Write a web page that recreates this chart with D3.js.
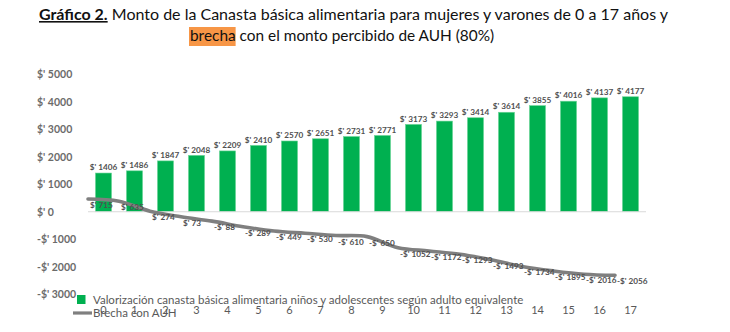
<!DOCTYPE html>
<html>
<head>
<meta charset="utf-8">
<script src="https://cdn.jsdelivr.net/npm/d3@7"></script>
<style>
  html, body { margin: 0; padding: 0; background: #ffffff; }
  svg { display: block; }
</style>
</head>
<body>
<svg id="chart" width="730" height="332"></svg>
<script>
// Edades (años) de niños y adolescentes
const ages = [0, 1, 2, 3, 4, 5, 6, 7, 8, 9, 10, 11, 12, 13, 14, 15, 16, 17];
// Valorización de la canasta básica alimentaria por edad ($)
const canasta = [1406, 1486, 1847, 2048, 2209, 2410, 2570, 2651, 2731, 2771,
                 3173, 3293, 3414, 3614, 3855, 4016, 4137, 4177];
// Brecha respecto del monto percibido de AUH (80%) ($)
const brecha = [715, 635, 274, 73, -88, -289, -449, -530, -610, -650,
                -1052, -1172, -1293, -1493, -1734, -1895, -2016, -2056];
// Marcas del eje vertical
const yTicks = [-3000, -2000, -1000, 0, 1000, 2000, 3000, 4000, 5000];
// Textos
const titleBold = "Gráfico 2.";
const titleLine1 = " Monto de la Canasta básica alimentaria para mujeres y varones de 0 a 17 años y";
const titleHighlight = "brecha";
const titleLine2 = " con el monto percibido de AUH (80%)";
const legendBars = "Valorización canasta básica alimentaria niños y adolescentes según adulto equivalente";
const legendLine = "Brecha con AUH";

const FONT = "Lato, 'Open Sans', sans-serif";
const svg = d3.select("#chart");

const money = v => (v < 0 ? "-$' " : "$' ") + Math.abs(v);

// Escalas
const x = d3.scaleBand().domain(ages).range([88, 646]).padding(0);
const y = d3.scaleLinear().domain([-3000, 5000]).range([294.3, 74.1]);

const barFrac = 0.52;
const bw = x.bandwidth();

// Título
const title = svg.append("text")
  .attr("x", 39).attr("y", 20)
  .attr("font-family", FONT).attr("font-size", 16).attr("fill", "#111");
title.append("tspan").attr("font-weight", "bold")
  .attr("text-decoration", "underline").text(titleBold);
title.append("tspan").text(titleLine1);

// Resaltado de "brecha"
const t2 = svg.append("g");
const hl = t2.append("rect").attr("fill", "#f79646");
const line2 = t2.append("text")
  .attr("x", 190).attr("y", 41)
  .attr("font-family", FONT).attr("font-size", 15.4).attr("fill", "#111");
const hlSpan = line2.append("tspan").text(titleHighlight);
line2.append("tspan").text(titleLine2);
const hw = hlSpan.node().getComputedTextLength();
hl.attr("x", 189).attr("y", 27).attr("width", hw + 1).attr("height", 19);

// Eje vertical (etiquetas alineadas a la izquierda)
const yAxis = svg.append("g")
  .attr("transform", "translate(37,0)")
  .call(d3.axisLeft(y).tickValues(yTicks).tickSize(0).tickFormat(money));
yAxis.select(".domain").remove();
yAxis.selectAll("text")
  .attr("x", 0).attr("text-anchor", "start")
  .attr("font-family", FONT).attr("font-size", 10.5).attr("font-weight", "bold")
  .attr("fill", "#6b6b6b");

// Barras
svg.append("g").selectAll("rect")
  .data(ages)
  .join("rect")
  .attr("x", (d) => x(d) + bw * (1 - barFrac) / 2)
  .attr("width", bw * barFrac)
  .attr("y", (d, i) => y(canasta[i]))
  .attr("height", (d, i) => y(0) - y(canasta[i]))
  .attr("fill", "#00b050")
  .attr("stroke", "#6fd69a").attr("stroke-width", 0.6);

// Línea del cero
svg.append("line")
  .attr("x1", x.range()[0]).attr("x2", x.range()[1])
  .attr("y1", y(0)).attr("y2", y(0))
  .attr("stroke", "#d9d9d9").attr("stroke-width", 1.2);

// Etiquetas de las barras
svg.append("g").selectAll("text")
  .data(ages)
  .join("text")
  .attr("x", (d) => x(d) + bw / 2)
  .attr("y", (d, i) => y(canasta[i]) - 2.8)
  .attr("text-anchor", "middle")
  .attr("font-family", FONT).attr("font-size", 8.2).attr("font-weight", "bold")
  .attr("fill", "#505050")
  .text((d, i) => money(canasta[i]));

// Serie de la brecha (línea suavizada)
const lineShift = 7;
const gLine = svg.append("g").attr("transform", `translate(0,${lineShift})`);
const pts = ages.map((a, i) => [x(a), y(brecha[i])]);
gLine.append("path")
  .attr("d", d3.line().curve(d3.curveCatmullRom.alpha(0.5))(pts))
  .attr("fill", "none")
  .attr("stroke", "#7f7f7f")
  .attr("stroke-width", 3.6)
  .attr("stroke-linecap", "round");

gLine.selectAll("text")
  .data(ages)
  .join("text")
  .attr("x", (d) => x(d) + 2)
  .attr("y", (d, i) => y(brecha[i]) + 9)
  .attr("font-family", FONT).attr("font-size", 8.2).attr("font-weight", "bold")
  .attr("fill", "#505050")
  .text((d, i) => money(brecha[i]));

// Eje horizontal (edades)
const xAxis = svg.append("g")
  .attr("transform", "translate(0,303)")
  .call(d3.axisBottom(x).tickSize(0).tickPadding(0));
xAxis.select(".domain").remove();
xAxis.selectAll("text")
  .attr("dy", "0")
  .attr("y", 10.5)
  .attr("font-family", FONT).attr("font-size", 11).attr("fill", "#595959");

// Leyenda
svg.append("rect")
  .attr("x", 77).attr("y", 295).attr("width", 8.5).attr("height", 9)
  .attr("fill", "#00b050");
svg.append("text")
  .attr("x", 93).attr("y", 303.5)
  .attr("font-family", FONT).attr("font-size", 11.5).attr("fill", "#595959")
  .text(legendBars);
svg.append("line")
  .attr("x1", 73).attr("x2", 92).attr("y1", 313).attr("y2", 313)
  .attr("stroke", "#7f7f7f").attr("stroke-width", 3.2);
svg.append("text")
  .attr("x", 93).attr("y", 317)
  .attr("font-family", FONT).attr("font-size", 11.5).attr("fill", "#595959")
  .text(legendLine);
</script>
</body>
</html>
